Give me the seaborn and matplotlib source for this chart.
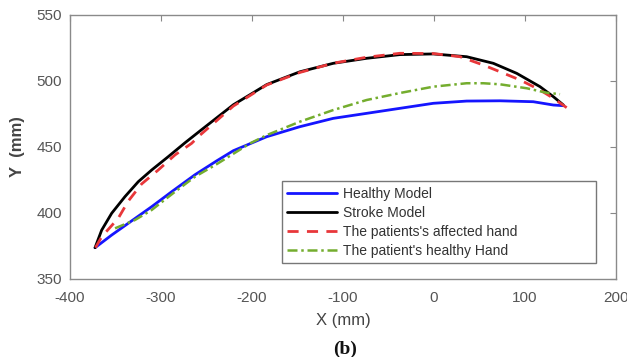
import matplotlib
matplotlib.use("Agg")
import matplotlib.pyplot as plt
import seaborn as sns
import pandas as pd

# Healthy Model (blue)
healthy_x = [-372.5, -354.2, -336.0, -310.2, -288.3, -262.6, -238.8, -220.5, -183.8, -147.3, -110.7, -74.0, -37.4, -0.8, 35.9, 72.5, 109.1, 131.2, 142.2]
healthy_y = [373.7, 383.3, 392.2, 404.8, 416.1, 429.0, 439.5, 447.2, 457.8, 465.4, 471.7, 475.5, 479.3, 483.1, 484.8, 485.0, 484.3, 481.8, 481.3]

# Stroke Model (black)
stroke_x = [-372.5, -365.2, -354.2, -339.6, -325.0, -310.2, -292.0, -273.6, -257.1, -220.5, -183.8, -147.3, -110.7, -74.0, -37.4, -0.8, 35.9, 65.2, 90.9, 116.5, 131.2, 142.2]
stroke_y = [373.7, 387.0, 399.8, 412.4, 423.7, 432.6, 442.7, 453.2, 462.2, 482.0, 497.3, 507.0, 513.4, 517.2, 520.0, 520.5, 518.4, 513.4, 505.8, 495.7, 488.1, 481.8]

# The patients's affected hand (red dashed)
affected_x = [-372.0, -365.2, -347.0, -336.0, -321.3, -303.0, -284.6, -266.3, -257.1, -220.5, -183.8, -147.3, -110.7, -74.0, -37.4, -0.8, 28.6, 54.2, 72.5, 94.5, 116.5, 131.2, 145.8]
affected_y = [373.7, 382.0, 396.0, 409.0, 422.0, 432.6, 444.0, 452.8, 459.0, 481.0, 497.0, 506.5, 513.5, 518.0, 521.0, 520.8, 518.4, 512.1, 507.0, 500.8, 493.2, 486.9, 479.8]

# The patient's healthy Hand (green dash-dot)
hand_x = [-350.5, -328.6, -310.2, -284.6, -262.6, -238.8, -202.0, -183.8, -147.3, -110.7, -74.0, -37.4, -0.8, 35.9, 54.2, 72.5, 101.9, 123.8, 138.5]
hand_y = [388.4, 394.7, 402.3, 416.1, 427.5, 437.0, 452.8, 459.0, 469.2, 478.0, 485.6, 490.9, 495.7, 498.3, 498.3, 497.5, 494.5, 491.1, 490.0]

labels = ["Healthy Model", "Stroke Model", "The patients's affected hand", "The patient's healthy Hand"]
x_ticks = [-400, -300, -200, -100, 0, 100, 200]
y_ticks = [350, 400, 450, 500, 550]

sns.set_theme(style="white")
plt.rcParams['font.family'] = ['Liberation Sans', 'DejaVu Sans']
plt.rcParams['axes.unicode_minus'] = False

fig = plt.figure(figsize=(6.27, 3.57), dpi=100)
ax = fig.add_axes([70/627, 1-279/357, 546/627, 264/357])

series = [
    (healthy_x, healthy_y, "#1515ff", None, 2.0),
    (stroke_x, stroke_y, "#000000", None, 2.0),
    (affected_x, affected_y, "#e8373a", (0, (4, 3)), 2.0),
    (hand_x, hand_y, "#74ad2e", (0, (4, 1.5, 1, 1.5)), 1.8),
]
for (xs, ys, c, ls, lw), lab in zip(series, labels):
    df = pd.DataFrame({"x": xs, "y": ys})
    sns.lineplot(data=df, x="x", y="y", sort=False, estimator=None, ax=ax,
                 color=c, linewidth=lw, label=lab)
    line = ax.lines[-1]
    line.set_solid_joinstyle("round")
    line.set_dash_joinstyle("round")
    if ls is not None:
        line.set_linestyle(ls)

ax.set_xlim(-400, 200)
ax.set_ylim(350, 550)
ax.set_xticks(x_ticks)
ax.set_yticks(y_ticks)
ax.tick_params(direction="in", length=4, width=0.8, colors="#888888",
               labelcolor="#555555", labelsize=11, top=True, right=True,
               labeltop=False, labelright=False)
ax.tick_params(axis="x", pad=9)
ax.tick_params(axis="y", pad=6)
for s in ax.spines.values():
    s.set_color("#8a8a8a")
    s.set_linewidth(1.0)

ax.set_xlabel("")
ax.set_ylabel("Y  (mm)", fontsize=12, color="#444444", fontweight="bold", labelpad=8)
fig.text(343/627, 1-320/357, "X (mm)", ha="center", va="center", fontsize=12, color="#444444")
fig.text(345/627, 1-349/357, "(b)", ha="center", va="center", fontsize=14,
         fontweight="bold", family=["Liberation Serif", "DejaVu Serif"], color="#111111")

leg = ax.legend(loc="lower left", bbox_to_anchor=(0.388, 0.06, 0.575, 0.32), mode="expand",
                fontsize=10, frameon=True, fancybox=False, handlelength=3.6,
                handletextpad=0.4, borderaxespad=0, labelspacing=0.35, borderpad=0.4)
leg.get_frame().set_edgecolor("#555555")
leg.get_frame().set_linewidth(1.0)
for t in leg.get_texts():
    t.set_color("#333333")

fig.savefig("out.png", dpi=100)
